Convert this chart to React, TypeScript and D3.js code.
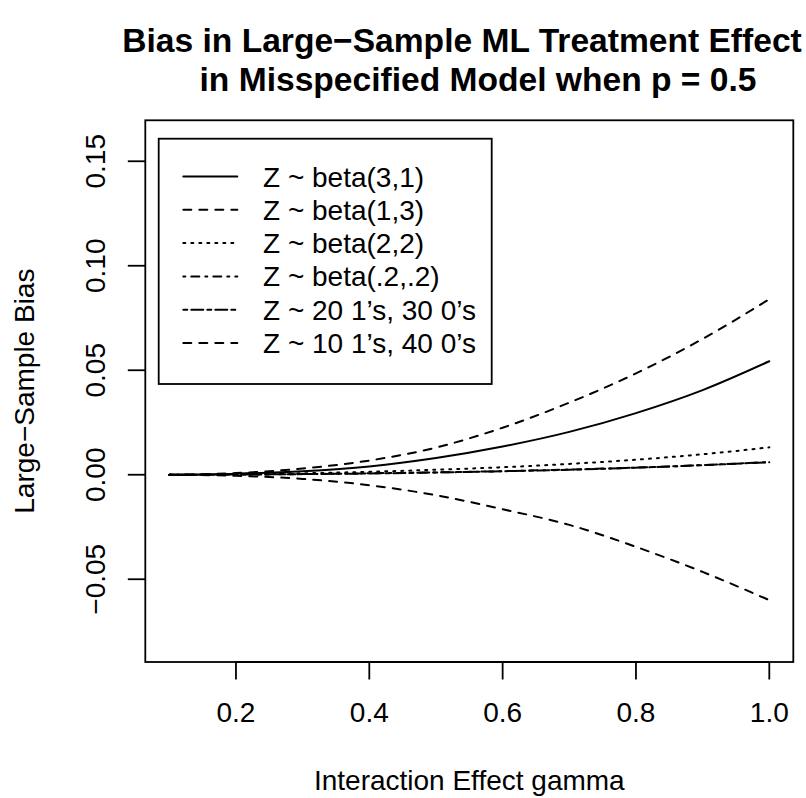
import React from "react";
import * as d3 from "d3";

// ---- data ----
const gamma = [0.1, 0.2, 0.3, 0.4, 0.5, 0.6, 0.7, 0.8, 0.9, 1.0];
const beta31 = [0, 0.0005, 0.0017, 0.004, 0.008, 0.0135, 0.0205, 0.0295, 0.0405, 0.0543];
const beta13 = [0, -0.0005, -0.002, -0.005, -0.0098, -0.0165, -0.024, -0.0345, -0.0465, -0.06];
const beta22 = [0, 0.0002, 0.0007, 0.0014, 0.0024, 0.0036, 0.0052, 0.0072, 0.0098, 0.0131];
const beta0202 = [0, 0.0001, 0.0003, 0.0007, 0.0011, 0.0017, 0.0025, 0.0034, 0.0046, 0.0061];
const ones20zeros30 = [0, 0.0001, 0.0003, 0.0006, 0.0011, 0.0017, 0.0024, 0.0034, 0.0046, 0.006];
const ones10zeros40 = [0, 0.0008, 0.003, 0.0068, 0.013, 0.0225, 0.0345, 0.0485, 0.065, 0.084];

const seriesLabels = [
  "Z ~ beta(3,1)",
  "Z ~ beta(1,3)",
  "Z ~ beta(2,2)",
  "Z ~ beta(.2,.2)",
  "Z ~ 20 1’s, 30 0’s",
  "Z ~ 10 1’s, 40 0’s",
];
const seriesValues = [beta31, beta13, beta22, beta0202, ones20zeros30, ones10zeros40];

const xTicks = [0.2, 0.4, 0.6, 0.8, 1.0];
const xTickLabels = ["0.2", "0.4", "0.6", "0.8", "1.0"];
const yTicks = [-0.05, 0, 0.05, 0.1, 0.15];
const yTickLabels = ["−0.05", "0.00", "0.05", "0.10", "0.15"];
const yLimits = [-0.08, 0.16];

const titleLines = ["Bias in Large−Sample ML Treatment Effect", "in Misspecified Model when p = 0.5"];
const xTitle = "Interaction Effect gamma";
const yTitle = "Large−Sample Bias";

// ---- layout / style ----
const W = 806;
const H = 798;
const P = { left: 145.3, right: 793.3, top: 120.3, bottom: 662 };
const FONT = "'Liberation Sans', Arial, Helvetica, sans-serif";
const FS = 28;
const U = 2; // dash unit
const dashes = ["", "4 4", "1 3", "1 3 4 3", "2 2 6 2", "4 4"].map((d) =>
  d ? d.split(" ").map((v) => +v * U).join(" ") : ""
);

export default function App() {
  const xr = [d3.min(gamma)!, d3.max(gamma)!];
  const xe = (xr[1] - xr[0]) * 0.04;
  const ye = (yLimits[1] - yLimits[0]) * 0.04;
  const x = d3.scaleLinear().domain([xr[0] - xe, xr[1] + xe]).range([P.left, P.right]);
  const y = d3.scaleLinear().domain([yLimits[0] - ye, yLimits[1] + ye]).range([P.bottom, P.top]);

  const line = d3
    .line<number>()
    .x((_, i) => x(gamma[i]))
    .y((d) => y(d))
    .curve(d3.curveMonotoneX);

  const legL = 158.7, legT = 138.7, legR = 491.7, legB = 384;
  const rowY0 = 176.5, rowH = 33.3;

  return (
    <div style={{ position: "absolute", left: 0, top: 0 }}>
      <svg width={W} height={H} viewBox={`0 0 ${W} ${H}`} style={{ display: "block", background: "#fff" }}>
        <rect x={0} y={0} width={W} height={H} fill="#fff" />
        {/* title */}
        <g fontFamily={FONT} fontWeight="bold" fontSize={33.6} textAnchor="middle" fill="#000">
          <text x={462} y={52}>{titleLines[0]}</text>
          <text x={478} y={91}>{titleLines[1]}</text>
        </g>

        {/* series */}
        <g fill="none" stroke="#000" strokeWidth={2} strokeLinecap="round" strokeLinejoin="round">
          {seriesValues.map((vals, i) => (
            <path key={i} d={line(vals) || ""} strokeDasharray={dashes[i] || undefined} />
          ))}
        </g>

        {/* box */}
        <rect x={P.left} y={P.top} width={P.right - P.left} height={P.bottom - P.top}
          fill="none" stroke="#000" strokeWidth={1.8} />

        {/* x axis */}
        <g stroke="#000" strokeWidth={1.8}>
          <line x1={x(xTicks[0])} x2={x(xTicks[xTicks.length - 1])} y1={P.bottom} y2={P.bottom} />
          {xTicks.map((t) => (
            <line key={t} x1={x(t)} x2={x(t)} y1={P.bottom} y2={P.bottom + 17.5} />
          ))}
        </g>
        <g fontFamily={FONT} fontSize={FS} textAnchor="middle" fill="#000">
          {xTicks.map((t, i) => (
            <text key={t} x={x(t)} y={722}>{xTickLabels[i]}</text>
          ))}
          <text x={(P.left + P.right) / 2} y={790}>{xTitle}</text>
        </g>

        {/* y axis */}
        <g stroke="#000" strokeWidth={1.8}>
          {yTicks.map((t) => (
            <line key={t} x1={P.left - 17.5} x2={P.left} y1={y(t)} y2={y(t)} />
          ))}
        </g>
        <g fontFamily={FONT} fontSize={FS} textAnchor="middle" fill="#000">
          {yTicks.map((t, i) => (
            <text key={t} x={105} y={y(t)} transform={`rotate(-90, 105, ${y(t)})`}>{yTickLabels[i]}</text>
          ))}
          <text x={34} y={(P.top + P.bottom) / 2}
            transform={`rotate(-90, 34, ${(P.top + P.bottom) / 2})`}>{yTitle}</text>
        </g>

        {/* legend */}
        <rect x={legL} y={legT} width={legR - legL} height={legB - legT} fill="#fff" stroke="#000" strokeWidth={1.8} />
        {seriesLabels.map((lab, i) => {
          const cy = rowY0 + i * rowH;
          return (
            <g key={lab}>
              <line x1={183.3} x2={237.3} y1={cy} y2={cy} stroke="#000" strokeWidth={2}
                strokeLinecap="round" strokeDasharray={dashes[i] || undefined} />
              <text x={263} y={cy + 10} fontFamily={FONT} fontSize={FS} fill="#000">{lab}</text>
            </g>
          );
        })}
      </svg>
    </div>
  );
}
